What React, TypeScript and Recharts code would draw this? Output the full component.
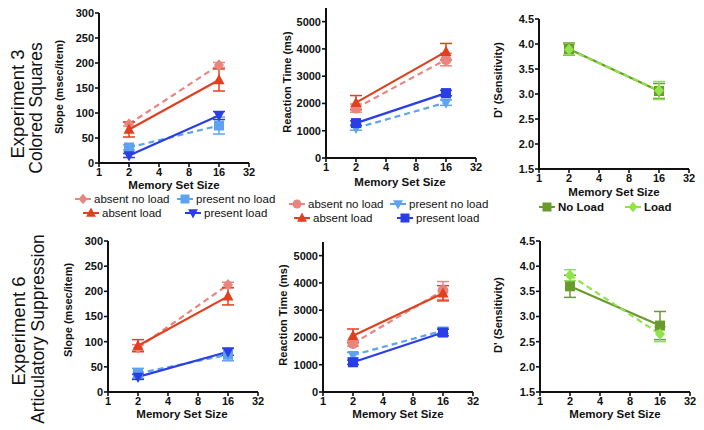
import React from "react";
import { LineChart, Line, XAxis, YAxis, ErrorBar } from "recharts";

const FONT = "'Liberation Sans', Arial, Helvetica, sans-serif";

// x axis (log2 memory set size)
const memorySizes = [2, 16];
const sizeTicks = [1, 2, 4, 8, 16, 32];
const slopeTicks = [0, 50, 100, 150, 200, 250, 300];
const rtTicks = [0, 1000, 2000, 3000, 4000, 5000];
const dTicks = [1.5, 2.0, 2.5, 3.0, 3.5, 4.0, 4.5];

// Experiment 3 - slope (msec/item)
const e3SlopeAbsentNoLoad = [78, 196];
const e3SlopeAbsentNoLoadErr = [4, 5];
const e3SlopeAbsentLoad = [67, 166];
const e3SlopeAbsentLoadErr = [15, 22];
const e3SlopePresentNoLoad = [31, 75];
const e3SlopePresentNoLoadErr = [5, 17];
const e3SlopePresentLoad = [15, 95];
const e3SlopePresentLoadErr = [4, 8];

// Experiment 3 - reaction time (ms)
const e3RtAbsentNoLoad = [1830, 3610];
const e3RtAbsentNoLoadErr = [150, 230];
const e3RtAbsentLoad = [2030, 3900];
const e3RtAbsentLoadErr = [260, 300];
const e3RtPresentNoLoad = [1100, 2030];
const e3RtPresentNoLoadErr = [80, 100];
const e3RtPresentLoad = [1280, 2380];
const e3RtPresentLoadErr = [80, 100];

// Experiment 3 - d'
const e3DNoLoad = [3.9, 3.06];
const e3DNoLoadErr = [0.12, 0.15];
const e3DLoad = [3.89, 3.07];
const e3DLoadErr = [0.1, 0.18];

// Experiment 6 - slope
const e6SlopeAbsentNoLoad = [88, 213];
const e6SlopeAbsentNoLoadErr = [6, 5];
const e6SlopeAbsentLoad = [92, 190];
const e6SlopeAbsentLoadErr = [12, 17];
const e6SlopePresentNoLoad = [37, 74];
const e6SlopePresentNoLoadErr = [10, 12];
const e6SlopePresentLoad = [30, 80];
const e6SlopePresentLoadErr = [5, 7];

// Experiment 6 - reaction time
const e6RtAbsentNoLoad = [1780, 3720];
const e6RtAbsentNoLoadErr = [100, 330];
const e6RtAbsentLoad = [2060, 3620];
const e6RtAbsentLoadErr = [250, 280];
const e6RtPresentNoLoad = [1350, 2250];
const e6RtPresentNoLoadErr = [100, 100];
const e6RtPresentLoad = [1090, 2180];
const e6RtPresentLoadErr = [80, 120];

// Experiment 6 - d'
const e6DNoLoad = [3.6, 2.82];
const e6DNoLoadErr = [0.22, 0.28];
const e6DLoad = [3.82, 2.65];
const e6DLoadErr = [0.11, 0.15];

const PINK = "#e9857f";
const RED = "#e0401e";
const LIGHT_BLUE = "#5ea3ef";
const BLUE = "#2a3ee6";
const OLIVE = "#6b9a2c";
const LIGHT_GREEN = "#8fe34c";

type Shape = "square" | "circle" | "diamond" | "triangle" | "down";

interface Series {
  key: string;
  color: string;
  dashed: boolean;
  shape: Shape;
  values: number[];
  err: number[];
}

const Marker = ({ shape, cx, cy, size, fill }: { shape: Shape; cx: number; cy: number; size: number; fill: string }) => {
  const s = size / 2;
  if (shape === "square") return <rect x={cx - s} y={cy - s} width={size} height={size} fill={fill} />;
  if (shape === "circle") return <circle cx={cx} cy={cy} r={s} fill={fill} />;
  if (shape === "diamond")
    return <polygon points={`${cx},${cy - s * 1.15} ${cx + s},${cy} ${cx},${cy + s * 1.15} ${cx - s},${cy}`} fill={fill} />;
  if (shape === "triangle")
    return <polygon points={`${cx},${cy - s * 1.2} ${cx + s * 1.1},${cy + s * 0.85} ${cx - s * 1.1},${cy + s * 0.85}`} fill={fill} />;
  return <polygon points={`${cx},${cy + s * 1.2} ${cx + s * 1.1},${cy - s * 0.85} ${cx - s * 1.1},${cy - s * 0.85}`} fill={fill} />;
};

const slopeSeries = (an: number[], anE: number[], al: number[], alE: number[], pn: number[], pnE: number[], pl: number[], plE: number[]): Series[] => [
  { key: "absentNoLoad", color: PINK, dashed: true, shape: "diamond", values: an, err: anE },
  { key: "presentNoLoad", color: LIGHT_BLUE, dashed: true, shape: "square", values: pn, err: pnE },
  { key: "absentLoad", color: RED, dashed: false, shape: "triangle", values: al, err: alE },
  { key: "presentLoad", color: BLUE, dashed: false, shape: "down", values: pl, err: plE },
];

const rtSeries = (an: number[], anE: number[], al: number[], alE: number[], pn: number[], pnE: number[], pl: number[], plE: number[]): Series[] => [
  { key: "absentNoLoad", color: PINK, dashed: true, shape: "circle", values: an, err: anE },
  { key: "presentNoLoad", color: LIGHT_BLUE, dashed: true, shape: "down", values: pn, err: pnE },
  { key: "absentLoad", color: RED, dashed: false, shape: "triangle", values: al, err: alE },
  { key: "presentLoad", color: BLUE, dashed: false, shape: "square", values: pl, err: plE },
];

const dSeries = (nl: number[], nlE: number[], l: number[], lE: number[]): Series[] => [
  { key: "noLoad", color: OLIVE, dashed: false, shape: "square", values: nl, err: nlE },
  { key: "load", color: LIGHT_GREEN, dashed: true, shape: "diamond", values: l, err: lE },
];

const buildRows = (series: Series[]) =>
  memorySizes.map((size, i) => {
    const row: Record<string, number> = { size };
    series.forEach((s) => {
      row[s.key] = s.values[i];
      row[s.key + "Err"] = s.err[i];
    });
    return row;
  });

const tickStyle = { fontSize: 11, fontWeight: "bold", fill: "#111", fontFamily: FONT };
const axisStyle = { stroke: "#111", strokeWidth: 2 };

interface PanelProps {
  x: number;
  y: number;
  w: number;
  h: number;
  domain: [number, number];
  ticks: number[];
  fmt?: (v: number) => string;
  series: Series[];
}

const Panel = ({ x, y, w, h, domain, ticks, fmt, series }: PanelProps) => {
  const YW = 40;
  const XH = 22;
  const MT = 8;
  const MR = 10;
  const data = buildRows(series);
  return (
    <div style={{ position: "absolute", left: x - YW, top: y - MT }}>
      <LineChart width={YW + w + MR} height={MT + h + XH} data={data} margin={{ top: MT, right: MR, left: 0, bottom: 0 }}>
        <XAxis
          dataKey="size"
          type="number"
          scale="log"
          domain={[1, 32]}
          ticks={sizeTicks}
          interval={0}
          allowDataOverflow
          height={XH}
          tickSize={4}
          tickMargin={1}
          tick={tickStyle}
          axisLine={axisStyle}
          tickLine={{ stroke: "#111", strokeWidth: 1.6 }}
        />
        <YAxis
          type="number"
          width={YW}
          domain={domain}
          ticks={ticks}
          interval={0}
          allowDataOverflow
          tickSize={4}
          tickMargin={1}
          tickFormatter={fmt}
          tick={tickStyle}
          axisLine={axisStyle}
          tickLine={{ stroke: "#111", strokeWidth: 1.6 }}
        />
        {series.map((s) => (
          <Line
            key={s.key}
            dataKey={s.key}
            stroke={s.color}
            strokeWidth={2.2}
            strokeDasharray={s.dashed ? "6 4" : undefined}
            isAnimationActive={false}
            activeDot={false}
            dot={(p: any) => <Marker key={`${s.key}-${p.index}`} shape={s.shape} cx={p.cx} cy={p.cy} size={s.shape === "circle" ? 11 : 10} fill={s.color} />}
          >
            <ErrorBar dataKey={s.key + "Err"} width={6} strokeWidth={1.5} stroke={s.color} direction="y" isAnimationActive={false} />
          </Line>
        ))}
      </LineChart>
    </div>
  );
};

const VText = ({ x, y, text, size, bold }: { x: number; y: number; text: string; size: number; bold?: boolean }) => (
  <text
    transform={`translate(${x},${y}) rotate(-90)`}
    textAnchor="middle"
    dominantBaseline="central"
    fontSize={size}
    fontWeight={bold ? "bold" : "normal"}
    fontFamily={FONT}
    fill="#111"
  >
    {text}
  </text>
);

const HText = ({ x, y, text }: { x: number; y: number; text: string }) => (
  <text x={x} y={y} textAnchor="middle" dominantBaseline="central" fontSize={11.5} fontWeight="bold" fontFamily={FONT} fill="#111">
    {text}
  </text>
);

const LegendItem = ({ x, y, color, shape, label, bold }: { x: number; y: number; color: string; shape: Shape; label: string; bold?: boolean }) => (
  <g>
    <line x1={x - 8} y1={y} x2={x + 8} y2={y} stroke={color} strokeWidth={2} />
    <Marker shape={shape} cx={x} cy={y} size={9} fill={color} />
    <text x={x + 11} y={y} dominantBaseline="central" fontSize={11.5} fontWeight={bold ? "bold" : "normal"} fontFamily={FONT} fill="#111">
      {label}
    </text>
  </g>
);

const dFmt = (v: number) => v.toFixed(1);

export default function App() {
  return (
    <div style={{ position: "fixed", left: 0, top: 0, width: 704, height: 430, background: "#fff", overflow: "hidden" }}>
      <Panel x={99} y={13} w={150} h={150} domain={[0, 300]} ticks={slopeTicks}
        series={slopeSeries(e3SlopeAbsentNoLoad, e3SlopeAbsentNoLoadErr, e3SlopeAbsentLoad, e3SlopeAbsentLoadErr, e3SlopePresentNoLoad, e3SlopePresentNoLoadErr, e3SlopePresentLoad, e3SlopePresentLoadErr)} />
      <Panel x={326} y={8} w={150} h={150} domain={[0, 5500]} ticks={rtTicks}
        series={rtSeries(e3RtAbsentNoLoad, e3RtAbsentNoLoadErr, e3RtAbsentLoad, e3RtAbsentLoadErr, e3RtPresentNoLoad, e3RtPresentNoLoadErr, e3RtPresentLoad, e3RtPresentLoadErr)} />
      <Panel x={539} y={19} w={150} h={150} domain={[1.5, 4.5]} ticks={dTicks} fmt={dFmt}
        series={dSeries(e3DNoLoad, e3DNoLoadErr, e3DLoad, e3DLoadErr)} />
      <Panel x={108} y={241} w={150} h={151} domain={[0, 300]} ticks={slopeTicks}
        series={slopeSeries(e6SlopeAbsentNoLoad, e6SlopeAbsentNoLoadErr, e6SlopeAbsentLoad, e6SlopeAbsentLoadErr, e6SlopePresentNoLoad, e6SlopePresentNoLoadErr, e6SlopePresentLoad, e6SlopePresentLoadErr)} />
      <Panel x={323} y={242} w={150} h={150} domain={[0, 5500]} ticks={rtTicks}
        series={rtSeries(e6RtAbsentNoLoad, e6RtAbsentNoLoadErr, e6RtAbsentLoad, e6RtAbsentLoadErr, e6RtPresentNoLoad, e6RtPresentNoLoadErr, e6RtPresentLoad, e6RtPresentLoadErr)} />
      <Panel x={540} y={241} w={150} h={151} domain={[1.5, 4.5]} ticks={dTicks} fmt={dFmt}
        series={dSeries(e6DNoLoad, e6DNoLoadErr, e6DLoad, e6DLoadErr)} />

      <svg width={704} height={430} style={{ position: "absolute", left: 0, top: 0, pointerEvents: "none" }}>
        <VText x={17} y={104} text="Experiment 3" size={18.5} />
        <VText x={36} y={108} text="Colored Squares" size={17.5} />
        <VText x={18} y={331} text="Experiment 6" size={18.5} />
        <VText x={38} y={329} text="Articulatory Suppression" size={17.5} />

        <VText x={59} y={87} text="Slope (msec/item)" size={11} bold />
        <VText x={287} y={82} text="Reaction Time (ms)" size={11} bold />
        <VText x={498} y={80} text="D' (Sensitivity)" size={11} bold />
        <VText x={68} y={310} text="Slope (msec/item)" size={11} bold />
        <VText x={283} y={315} text="Reaction Time (ms)" size={11} bold />
        <VText x={498} y={315} text="D' (Sensitivity)" size={11} bold />

        <HText x={174} y={185} text="Memory Set Size" />
        <HText x={400} y={182} text="Memory Set Size" />
        <HText x={614} y={192} text="Memory Set Size" />
        <HText x={182} y={414} text="Memory Set Size" />
        <HText x={398} y={414} text="Memory Set Size" />
        <HText x={615} y={414} text="Memory Set Size" />

        <LegendItem x={83} y={199} color={PINK} shape="diamond" label="absent no load" />
        <LegendItem x={185} y={199} color={LIGHT_BLUE} shape="square" label="present no load" />
        <LegendItem x={91} y={213} color={RED} shape="triangle" label="absent load" />
        <LegendItem x={193} y={213} color={BLUE} shape="down" label="present load" />

        <LegendItem x={297} y={204} color={PINK} shape="circle" label="absent no load" />
        <LegendItem x={398} y={204} color={LIGHT_BLUE} shape="down" label="present no load" />
        <LegendItem x={302} y={218} color={RED} shape="triangle" label="absent load" />
        <LegendItem x={405} y={218} color={BLUE} shape="square" label="present load" />

        <LegendItem x={547} y={207} color={OLIVE} shape="square" label="No Load" bold />
        <LegendItem x={633} y={207} color={LIGHT_GREEN} shape="diamond" label="Load" bold />
      </svg>
    </div>
  );
}
